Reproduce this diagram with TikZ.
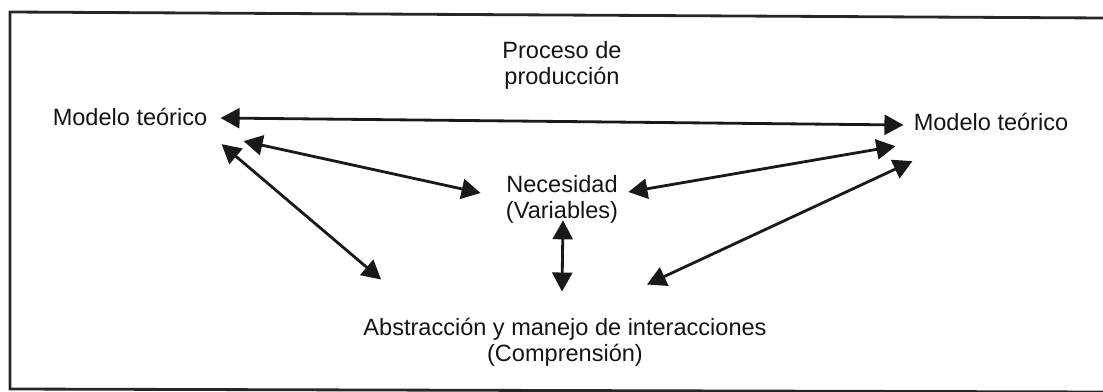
\documentclass[tikz,border=0pt]{standalone}
\usepackage{fontspec}
\setmainfont{Liberation Sans}
\usetikzlibrary{arrows.meta,calc}
\tikzset{
  lbl/.style={inner sep=0pt, align=center, text=black!92,
    font=\fontsize{13.4pt}{14.8pt}\selectfont},
  link/.style={{Triangle[length=0.38cm,width=0.4cm]}-{Triangle[length=0.38cm,width=0.4cm]},
    line width=1.6pt, draw=black!90},
  frame/.style={line width=1.6pt, draw=black!85}
}
\begin{document}
\begin{tikzpicture}[x=0.02cm,y=-0.02cm]
    \useasboundingbox (0,0) rectangle (1103,392);
    \draw [frame] (1103,18) -- (10,12) -- (10,389) -- (1103,392);
    \node [lbl] (proc) at (562,65) {Proceso de\\producción};
    \node [lbl] (ml) at (130,117) {Modelo teórico};
    \node [lbl] (mr) at (991,122) {Modelo teórico};
    \node [lbl] (nec) at (562,199) {Necesidad\\(Variables)};
    \node [lbl] (abs) at (565,342) {Abstracción y manejo de interacciones\\(Comprensión)};
    % arrows
    \draw [link] ($(ml.east)+(13,1)$) -- ($(mr.west)+(-10,3)$);
    \draw [link] ($(ml.south east)+(36,15)$) -- ($(nec.west)+(-25,-6)$);
    \draw [link] ($(ml.south east)+(14,18)$) -- ($(abs.north west)+(18,-38)$);
    \draw [link] ($(nec.east)+(10,-7)$) -- ($(mr.south west)+(-18,15)$);
    \draw [link] ($(abs.north)+(82,-33)$) -- ($(mr.south west)+(-1,30)$);
    \draw [link] ($(nec.south)+(1,-3)$) -- ($(abs.north)+(-3,-26)$);
\end{tikzpicture}
\end{document}
